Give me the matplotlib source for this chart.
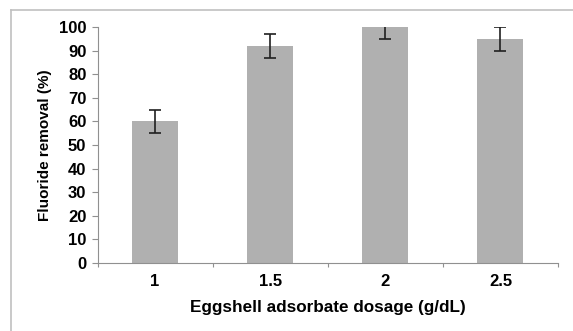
import numpy as np
import matplotlib.pyplot as plt
from matplotlib.lines import Line2D

plt.rcParams['font.family'] = ['Liberation Sans', 'DejaVu Sans']

# data
dosage = ['1', '1.5', '2', '2.5']
removal = [60, 92, 100, 95]
err = [5, 5, 5, 5]

fig = plt.figure(figsize=(5.73, 3.31), dpi=100)
ax = fig.add_axes([97.5/573, 1-263/331, (558-97.5)/573, (263-27)/331])

x = np.arange(len(dosage))
ax.bar(x, removal, width=0.4, color='#b0b0b0', zorder=2)
ax.errorbar(x, removal, yerr=err, fmt='none', ecolor='#202020',
            elinewidth=1.2, capsize=4, capthick=1.2, zorder=3, clip_on=True)

ax.set_xlim(-0.5, len(dosage)-0.5)
ax.set_ylim(0, 100)
ax.set_yticks(np.arange(0, 101, 10))
ax.set_yticklabels([str(v) for v in range(0, 101, 10)], fontweight='bold', fontsize=12)

# excel style: ticks between categories, labels at centers
ax.set_xticks(np.arange(-0.5, len(dosage), 1.0))
ax.set_xticklabels([])
ax.set_xticks(x, minor=True)
ax.set_xticklabels(dosage, minor=True, fontweight='bold', fontsize=12)
ax.tick_params(axis='x', which='minor', length=0, pad=8)
ax.tick_params(axis='x', which='major', length=3, color='#909090')
ax.tick_params(axis='y', length=4, color='#909090', pad=4)

for s in ['top', 'right']:
    ax.spines[s].set_visible(False)
for s in ['left', 'bottom']:
    ax.spines[s].set_color('#909090')

ax.set_ylabel('Fluoride removal (%)', fontweight='bold', fontsize=11, labelpad=5)
ax.set_xlabel('Eggshell adsorbate dosage (g/dL)', fontweight='bold', fontsize=12.3, labelpad=8)

# outer chart-area frame (runs off the right and bottom edges)
fx = 11/573
fy = 1-10/331
fig.add_artist(Line2D([fx, fx], [-0.1, fy], color='#c0c0c0', lw=1.2, transform=fig.transFigure))
fig.add_artist(Line2D([fx, 1.1], [fy, fy], color='#c0c0c0', lw=1.2, transform=fig.transFigure))

fig.savefig('out.png', dpi=100)
